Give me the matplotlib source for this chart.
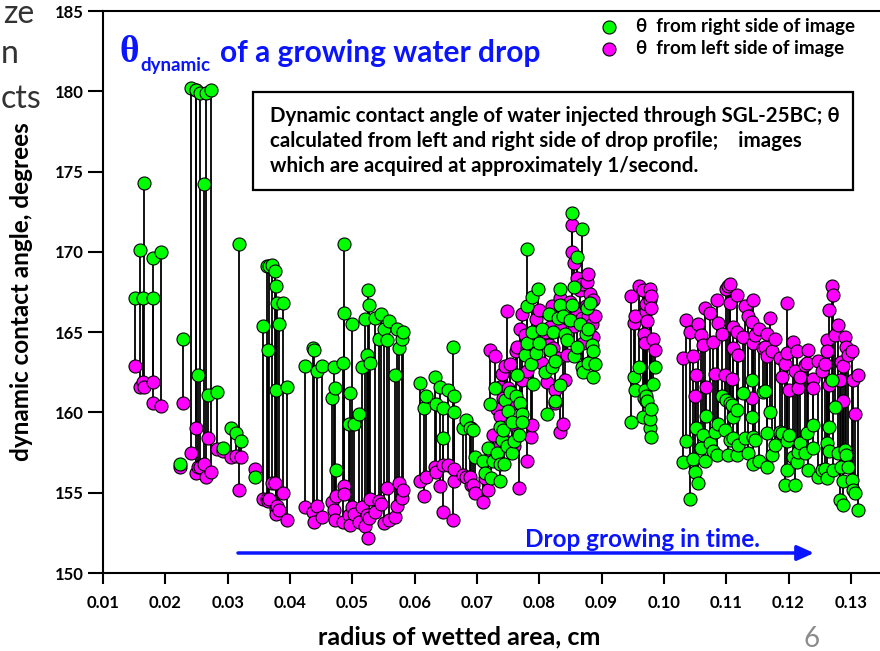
import matplotlib
matplotlib.use("Agg")
import matplotlib.pyplot as plt
from matplotlib.patches import Rectangle
import numpy as np

plt.rcParams['font.family'] = ['Lato', 'DejaVu Sans']
plt.rcParams['font.weight'] = 'bold'

# radius of wetted area (cm), theta from right side, theta from left side
radius = [
    0.0151, 0.0159, 0.0164, 0.0166, 0.0180, 0.0181, 0.0193,
    0.0224, 0.0229, 0.0241, 0.0249, 0.0250, 0.0252, 0.0255, 0.0262, 0.0265, 0.0268,
    0.0273, 0.0283, 0.0293, 0.0305, 0.0313, 0.0319, 0.0322,
    0.0344, 0.0356, 0.0363, 0.0364, 0.0366, 0.0371, 0.0376, 0.0377, 0.0378, 0.0380,
    0.0383, 0.0389, 0.0395,
    0.0424, 0.0437, 0.0438, 0.0443, 0.0452, 0.0468, 0.0471, 0.0472, 0.0474, 0.0485,
    0.0486, 0.0487, 0.0494, 0.0497, 0.0499, 0.0502, 0.0510, 0.0515, 0.0521, 0.0523,
    0.0525, 0.0527, 0.0528, 0.0537, 0.0543, 0.0546, 0.0551, 0.0555, 0.0559, 0.0568,
    0.0571, 0.0575, 0.0579, 0.0581,
    0.0609, 0.0615, 0.0618, 0.0632, 0.0635, 0.0641, 0.0645, 0.0646, 0.0654, 0.0662,
    0.0663, 0.0664, 0.0678, 0.0683, 0.0691,
    0.0689, 0.0694, 0.0697, 0.0710, 0.0713, 0.0718, 0.0721, 0.0723, 0.0726, 0.0729,
    0.0732, 0.0737, 0.0737, 0.0737, 0.0740, 0.0742, 0.0743, 0.0745, 0.0748, 0.0750,
    0.0753, 0.0756, 0.0756, 0.0760, 0.0763, 0.0765, 0.0768, 0.0769, 0.0772, 0.0772,
    0.0777, 0.0781, 0.0781, 0.0781, 0.0787, 0.0788, 0.0788, 0.0790, 0.0795, 0.0798,
    0.0800, 0.0805, 0.0809, 0.0812, 0.0815, 0.0817, 0.0820, 0.0822, 0.0825, 0.0825,
    0.0830, 0.0833, 0.0833, 0.0833, 0.0838, 0.0841, 0.0845, 0.0849, 0.0852, 0.0853,
    0.0855, 0.0855, 0.0860, 0.0860, 0.0865, 0.0868, 0.0868, 0.0871, 0.0875, 0.0876,
    0.0879, 0.0879, 0.0882, 0.0884, 0.0887, 0.0887, 0.0890,
    0.0948, 0.0952, 0.0953, 0.0960, 0.0966, 0.0968, 0.0970, 0.0971, 0.0972, 0.0973,
    0.0977, 0.0978, 0.0979, 0.0980, 0.0982, 0.0986,
    0.1031, 0.1036, 0.1042, 0.1047, 0.1050, 0.1052, 0.1055, 0.1060, 0.1063, 0.1066,
    0.1068, 0.1074, 0.1079, 0.1082, 0.1085, 0.1087, 0.1093, 0.1098, 0.1100, 0.1103,
    0.1106, 0.1106, 0.1109, 0.1111, 0.1111, 0.1117, 0.1117, 0.1119, 0.1127, 0.1130,
    0.1135, 0.1141, 0.1141, 0.1143, 0.1143, 0.1146, 0.1152, 0.1159, 0.1162, 0.1165,
    0.1165, 0.1170, 0.1173, 0.1178, 0.1186, 0.1189, 0.1194, 0.1197, 0.1197, 0.1200,
    0.1207, 0.1210, 0.1213, 0.1215, 0.1218, 0.1226, 0.1229, 0.1232, 0.1240, 0.1240,
    0.1248, 0.1254, 0.1258, 0.1261, 0.1261, 0.1265, 0.1265, 0.1269, 0.1271, 0.1274,
    0.1280, 0.1282, 0.1285, 0.1287, 0.1288, 0.1290, 0.1293, 0.1295, 0.1302, 0.1303,
    0.1307, 0.1312,
]
theta_right = [
    167.1, 170.1, 167.1, 174.3, 169.6, 167.1, 170.0,
    156.8, 164.6, 180.2, 180.1, 180.1, 162.3, 179.9, 174.2, 179.9, 161.1,
    180.1, 161.3, 157.8, 159.0, 158.7, 170.5, 158.2,
    156.0, 165.4, 169.1, 163.9, 169.1, 169.2, 168.8, 161.4, 167.9, 166.8,
    165.5, 166.8, 161.6,
    162.9, 164.0, 163.9, 162.6, 162.9, 160.9, 162.8, 161.5, 156.4, 163.1,
    166.2, 170.5, 159.3, 161.2, 165.5, 159.3, 159.9, 162.8, 165.8, 163.6,
    167.6, 166.7, 163.1, 165.9, 164.6, 166.1, 165.2, 164.5, 165.7, 162.3,
    165.2, 164.0, 164.6, 165.0,
    161.85, 160.3, 161.0, 162.2, 160.5, 161.6, 158.4, 160.3, 161.4, 164.1,
    161.0, 160.0, 159.0, 159.5, 159.0,
    159.0, 158.9, 157.2, 157.0, 156.2, 157.8, 160.5, 155.9, 157.0, 161.5,
    157.5, 159.1, 156.8, 155.7, 158.3, 158.9, 156.8, 160.8, 157.9, 160.1,
    161.3, 159.4, 157.5, 158.2, 161.0, 162.3, 158.6, 160.6, 159.9, 159.4,
    163.6, 170.2, 166.6, 164.3, 163.0, 167.2, 165.0, 161.8, 163.7, 167.7,
    164.3, 165.2, 162.5, 159.9, 166.1, 163.9, 162.8, 165.0, 163.2, 160.7,
    165.85, 167.7, 166.7, 161.7, 166.0, 164.9, 164.5, 165.75, 172.4, 166.7,
    167.8, 163.5, 169.7, 164.1, 165.5, 171.4, 162.8, 162.5, 164.9, 166.5,
    165.2, 163.1, 166.8, 164.2, 163.8, 162.2, 163.0,
    159.4, 162.2, 161.4, 162.85, 159.7, 160.9, 161.4, 160.7, 161.0, 160.7,
    159.0, 159.6, 160.2, 158.5, 161.8, 162.8,
    156.9, 158.2, 154.6, 157.1, 156.3, 159.0, 155.6, 157.8, 158.6, 157.0,
    159.8, 158.1, 157.6, 158.8, 157.35, 159.3, 161.0, 158.9, 160.8, 157.35,
    160.6, 158.3, 160.45, 159.7, 158.4, 157.35, 160.15, 158.0, 161.2, 158.4,
    157.5, 162.0, 159.7, 158.5, 156.8, 158.3, 157.0, 161.3, 161.35, 158.7,
    156.6, 160.05, 157.35, 158.0, 158.8, 158.7, 155.5, 156.4, 158.2, 158.6,
    157.2, 155.5, 156.9, 157.55, 158.1, 157.45, 158.7, 156.4, 159.2, 157.8,
    156.0, 156.4, 156.5, 158.1, 155.9, 159.1, 157.6, 162.0, 156.4, 160.35,
    157.45, 154.55, 156.6, 155.7, 154.25, 157.65, 157.35, 156.6, 155.8, 155.2,
    155.0, 153.9,
]
theta_left = [
    162.9, 161.6, 161.9, 161.6, 161.9, 160.6, 160.4,
    156.6, 160.6, 157.5, 156.2, 159.0, 156.6, 156.6, 156.8, 156.0, 158.4,
    156.3, 157.7, 157.6, 157.2, 157.3, 155.2, 157.2,
    156.5, 154.6, 154.6, 154.5, 154.6, 155.6, 155.6, 154.0, 153.7, 154.2,
    153.9, 155.0, 153.3,
    154.1, 153.8, 153.2, 154.2, 153.5, 154.4, 153.9, 153.3, 154.8, 153.2,
    155.4, 154.9, 153.6, 153.0, 154.1, 153.7, 153.2, 154.1, 152.9, 153.6,
    152.2, 153.4, 154.6, 153.8, 154.5, 154.3, 153.1, 155.3, 153.3, 153.5,
    154.2, 155.6, 154.7, 155.2,
    155.7, 154.8, 156.0, 156.6, 156.3, 155.4, 156.7, 153.8, 156.7, 153.3,
    155.7, 156.5, 156.1, 156.0, 155.5,
    156.0, 155.5, 155.0, 154.4, 155.9, 155.2, 163.9, 157.4, 158.6, 163.5,
    160.2, 161.6, 159.8, 157.9, 162.4, 160.9, 158.3, 162.9, 166.3, 161.5,
    163.0, 160.5, 159.3, 157.9, 163.8, 164.1, 155.3, 165.2, 166.1, 162.0,
    164.8, 157.0, 164.0, 162.6, 158.5, 159.2, 163.3, 163.9, 165.8, 164.6,
    166.4, 163.1, 165.0, 161.9, 164.2, 165.3, 166.6, 164.0, 161.4, 160.6,
    163.4, 167.1, 165.2, 158.8, 159.3, 162.0, 163.6, 166.9, 170.0, 171.7,
    169.3, 165.4, 168.4, 166.2, 167.6, 168.0, 165.85, 164.3, 166.6, 168.1,
    168.6, 166.0, 167.4, 165.5, 167.0, 164.7, 166.0,
    167.25, 165.55, 166.0, 167.9, 167.6, 164.9, 164.3, 166.3, 166.75, 165.7,
    167.0, 167.7, 167.25, 166.5, 164.6, 163.9,
    163.4, 165.75, 165.0, 163.5, 161.0, 162.3, 165.5, 164.8, 164.2, 166.5,
    161.6, 166.2, 164.4, 162.4, 167.0, 165.6, 164.9, 162.3, 167.7, 167.9,
    168.0, 166.8, 162.1, 165.35, 164.0, 167.3, 165.0, 163.6, 164.7, 166.6,
    166.0, 165.65, 160.9, 167.0, 164.3, 164.8, 165.2, 164.0, 164.1, 164.9,
    163.5, 165.85, 163.8, 164.6, 163.4, 162.2, 163.0, 166.8, 163.7, 161.4,
    164.4, 162.6, 163.8, 161.5, 162.2, 162.95, 163.05, 163.9, 162.1, 161.5,
    163.2, 162.6, 163.0, 164.5, 163.8, 166.4, 161.7, 167.9, 167.3, 164.8,
    165.45, 162.0, 163.15, 160.7, 162.9, 164.7, 164.1, 163.6, 163.8, 162.0,
    159.9, 162.3,
]

x_ticks = [0.01, 0.02, 0.03, 0.04, 0.05, 0.06, 0.07, 0.08, 0.09, 0.10, 0.11, 0.12, 0.13]
y_ticks = [150, 155, 160, 165, 170, 175, 180, 185]

W, H = 880, 651
def fx(px):
    return px / W
def fy(py):
    return 1 - py / H

fig = plt.figure(figsize=(8.8, 6.51), dpi=100)
ax = fig.add_axes([fx(103), fy(573), fx(882) - fx(103), fy(11) - fy(573)])

r = np.array(radius)
tr = np.array(theta_right)
tl = np.array(theta_left)
ax.vlines(r, np.minimum(tr, tl), np.maximum(tr, tl), colors='black', lw=1.3, zorder=1)
ax.scatter(r, tl, s=88, c='#ff00ff', edgecolors='black', linewidths=0.8, zorder=2,
           label='θ  from left side of image')
ax.scatter(r, tr, s=88, c='#00ff00', edgecolors='black', linewidths=0.8, zorder=3,
           label='θ  from right side of image')

ax.set_xlim(0.01, 0.135)
ax.set_ylim(150, 185)
ax.set_xticks(x_ticks)
ax.set_xticklabels([f"{v:.2f}" for v in x_ticks], fontsize=12, fontweight='bold')
ax.set_yticks(y_ticks)
ax.set_yticklabels([str(v) for v in y_ticks], fontsize=12, fontweight='bold')
ax.tick_params(axis='y', direction='out', length=11, width=1.5, pad=3)
ax.tick_params(axis='x', direction='out', length=8, width=1.5, pad=8)
ax.spines['right'].set_visible(False)
for s in ['left', 'bottom', 'top']:
    ax.spines[s].set_linewidth(1.5)

# legend (green first)
h, l = ax.get_legend_handles_labels()
fig.legend(h[::-1], l[::-1], loc='upper left', bbox_to_anchor=(fx(590), fy(18)),
           frameon=False, handletextpad=0.45, labelspacing=0.28,
           borderpad=0, borderaxespad=0, prop={'weight': 'bold', 'size': 13.5})

# title
blue = '#0a14ff'
fig.text(fx(119), fy(62), 'θ', color=blue, fontsize=27, fontweight='bold',
         family=['Liberation Serif', 'DejaVu Serif'], va='baseline')
fig.text(fx(140), fy(71), 'dynamic', color=blue, fontsize=13.5, fontweight='bold', va='baseline')
fig.text(fx(220), fy(62), 'of a growing water drop', color=blue, fontsize=21.5,
         fontweight='bold', va='baseline')

# annotation box
fig.patches.append(Rectangle((fx(253), fy(190)), fx(853) - fx(253), fy(92) - fy(190),
                             transform=fig.transFigure, fill=False, edgecolor='black',
                             lw=1.6, zorder=5))
box_lines = ['Dynamic contact angle of water injected through SGL-25BC; θ',
             'calculated from left and right side of drop profile;    images',
             'which are acquired at approximately 1/second.']
for i, line in enumerate(box_lines):
    fig.text(fx(270), fy(122 + 25 * i), line, fontsize=14.8, fontweight='bold', va='baseline')

# arrow
ax.annotate('', xy=(fx(814), fy(553)), xytext=(fx(238), fy(553)),
            xycoords='figure fraction', textcoords='figure fraction',
            arrowprops=dict(arrowstyle='-|>,head_length=1.0,head_width=0.45',
                            color=blue, lw=2.5, shrinkA=0, shrinkB=0))
fig.text(fx(642), fy(547), 'Drop growing in time.', color=blue, fontsize=17.5,
         fontweight='bold', ha='center', va='baseline')

# axis labels
fig.text(fx(459), fy(644), 'radius of wetted area, cm', fontsize=18, fontweight='bold',
         ha='center', va='baseline')
fig.text(fx(22), fy(292), 'dynamic contact angle, degrees', fontsize=17.5, fontweight='bold',
         ha='center', va='center', rotation=90)

# leftover slide text
gray = '#333333'
fig.text(fx(3), fy(23), 'ze', fontsize=23, fontweight='normal', color=gray, va='baseline')
fig.text(fx(1), fy(63), 'n', fontsize=23, fontweight='normal', color=gray, va='baseline')
fig.text(fx(1), fy(108), 'cts', fontsize=23, fontweight='normal', color=gray, va='baseline')
fig.text(fx(812), fy(647), '6', fontsize=20, fontweight='normal', color='#8c8c8c',
         ha='center', va='baseline')

fig.savefig('out.png', dpi=100)
